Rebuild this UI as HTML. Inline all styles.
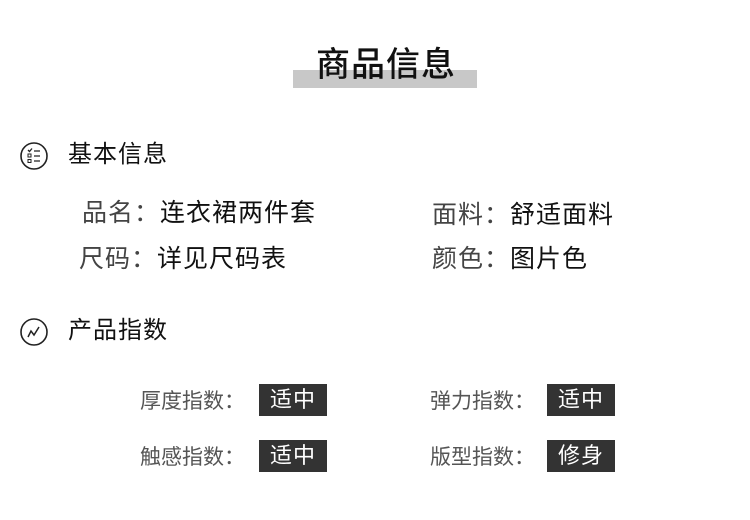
<!DOCTYPE html><html><head><meta charset="utf-8"><style>
body{margin:0;width:750px;height:520px;background:#fff;position:relative;overflow:hidden;font-family:"Liberation Sans","Noto Sans CJK SC",sans-serif;}
.a{position:absolute;white-space:nowrap;line-height:1;}
.bar{position:absolute;left:293px;top:70px;width:184px;height:18px;background:#c8c8c8;}
.t{left:316px;top:48px;font-size:34px;color:#111;letter-spacing:1px;font-weight:500;}
.h{font-size:24px;color:#111;letter-spacing:1px;}
.i{font-size:25px;color:#111;letter-spacing:1px;}
.l{font-size:21px;color:#555;}
.b{position:absolute;width:68px;height:32px;background:#333;color:#fff;font-size:22px;line-height:32px;text-align:center;letter-spacing:1px;}
</style></head><body>
<div class="bar"></div>
<div class="a t">商品信息</div>
<svg class="a" style="left:19px;top:141px" width="30" height="30"><circle cx="15" cy="15" r="13" fill="none" stroke="#222" stroke-width="1.6"/><path d="M9 9l1.5 1.5 2.5-3M15 10h6M15 15h6M15 20h6" stroke="#222" stroke-width="1.3" fill="none"/><rect x="9" y="13" width="3" height="3" fill="none" stroke="#222"/><rect x="9" y="18.5" width="3" height="3" fill="none" stroke="#222"/></svg>
<div class="a h" style="left:68px;top:143px">基本信息</div>
<div class="a i" style="left:82px;top:201px"><span style="color:#444">品名：</span>连衣裙两件套</div>
<div class="a i" style="left:432px;top:203px"><span style="color:#444">面料：</span>舒适面料</div>
<div class="a i" style="left:79px;top:247px"><span style="color:#444">尺码：</span>详见尺码表</div>
<div class="a i" style="left:432px;top:247px"><span style="color:#444">颜色：</span>图片色</div>
<svg class="a" style="left:19px;top:317px" width="30" height="30"><circle cx="15" cy="15" r="13" fill="none" stroke="#222" stroke-width="1.6"/><path d="M9 20l3-6 3 4 5-8" stroke="#222" stroke-width="1.5" fill="none"/></svg>
<div class="a h" style="left:68px;top:319px">产品指数</div>
<div class="a l" style="left:140px;top:391px">厚度指数：</div>
<div class="b" style="left:259px;top:384px">适中</div>
<div class="a l" style="left:430px;top:391px">弹力指数：</div>
<div class="b" style="left:547px;top:384px">适中</div>
<div class="a l" style="left:140px;top:447px">触感指数：</div>
<div class="b" style="left:259px;top:440px">适中</div>
<div class="a l" style="left:430px;top:447px">版型指数：</div>
<div class="b" style="left:547px;top:440px">修身</div>
</body></html>
